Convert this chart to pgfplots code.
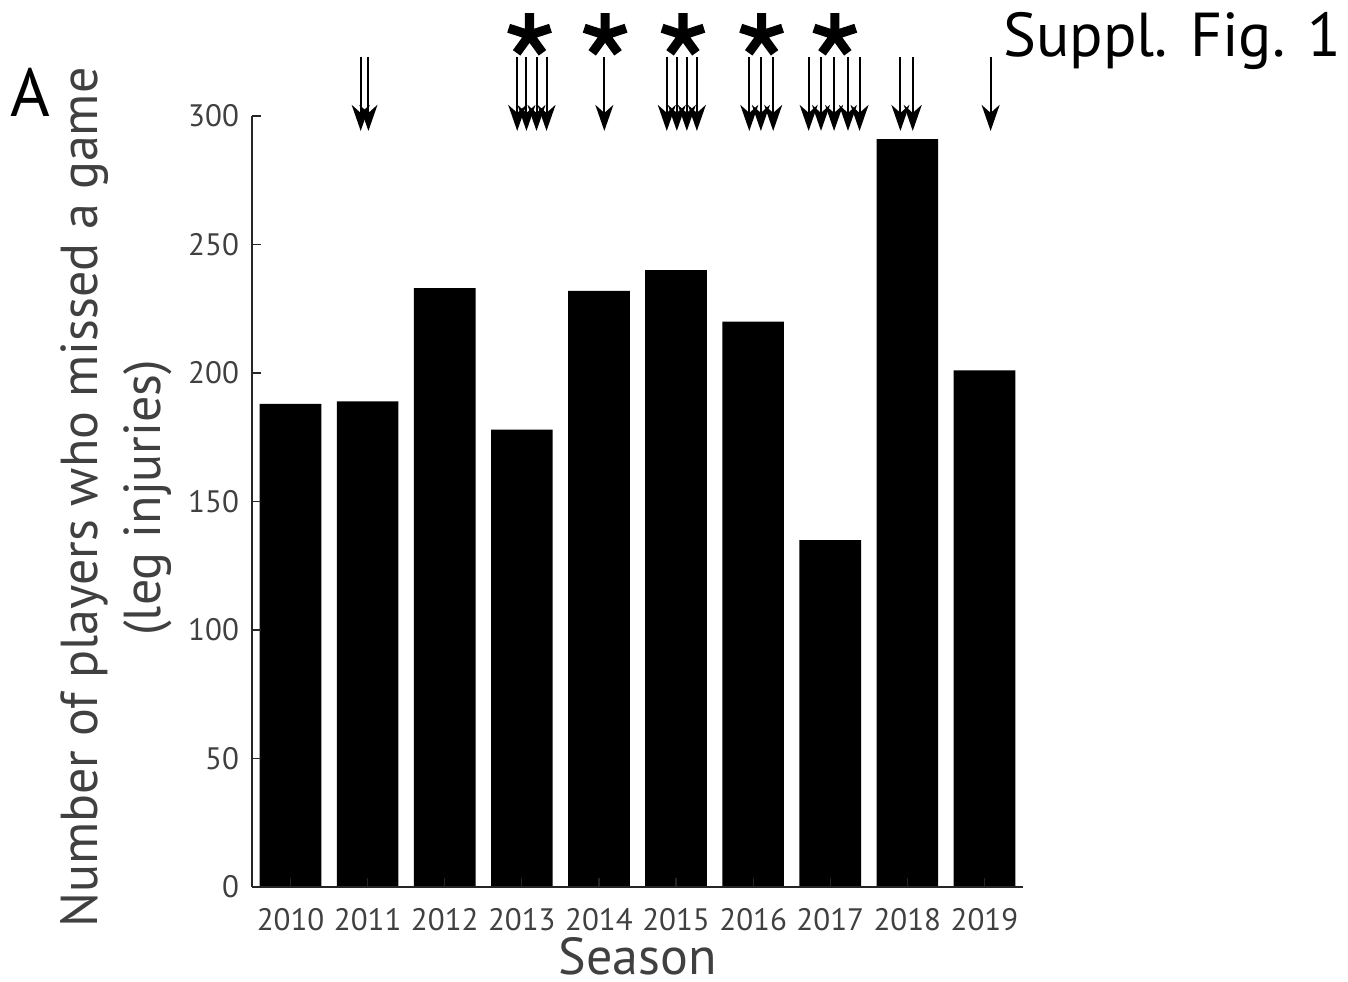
\documentclass[border=0pt]{standalone}
\usepackage{pgfplots}
\pgfplotsset{compat=1.18}
\usepackage{fontspec}
\setmainfont{PT Sans}
\usetikzlibrary{arrows.meta}
\definecolor{axgray}{HTML}{262626}
\definecolor{txtgray}{HTML}{404040}
\begin{document}
\begin{tikzpicture}
\useasboundingbox (-126pt,-47pt) rectangle (548pt,443.5pt);
\begin{axis}[
  at={(0pt,0pt)}, anchor=south west,
  scale only axis, width=385.5pt, height=385.5pt,
  xmin=-0.5, xmax=9.5, ymin=0, ymax=300,
  clip=false,
  axis lines*=left,
  axis line style={axgray, line width=0.9pt},
  axis on top,
  tick align=inside,
  major tick length=4.5pt,
  tick style={axgray, line width=0.6pt},
  xtick={0,...,9},
  xticklabels={2010,2011,2012,2013,2014,2015,2016,2017,2018,2019},
  ytick={0,50,100,150,200,250,300},
  /pgf/number format/assume math mode=true,
  tick label style={font=\fontsize{15.5}{18}\selectfont, color=txtgray},
  xticklabel style={yshift=-7pt},
  yticklabel style={xshift=-3pt},
  xlabel={Season},
  xlabel style={font=\fontsize{26}{30}\selectfont, color=txtgray,
    at={(axis description cs:0.5,0)}, anchor=center, yshift=-34.5pt},
  ylabel={Number of players who missed a game\\(leg injuries)},
  ylabel style={font=\fontsize{26}{31.5}\selectfont, color=txtgray, align=center,
    at={(axis description cs:-0.176,0.505)}, anchor=center},
]
\addplot[ybar, bar width=0.8, bar shift=0pt, fill=black, draw=none]
  coordinates {(0,188)(1,189)(2,233)(3,178)(4,232)(5,240)(6,220)(7,135)(8,291)(9,201)};
\addplot[black, line width=1pt, mark=none,
  -{Stealth[length=13pt,width=9pt,inset=4pt]},
  quiver={u=0,v=-28.8}]
  coordinates {(0.91,323)(1.01,323)
    (2.94,323)(3.06,323)(3.19,323)(3.32,323)
    (4.07,323)
    (4.88,323)(5.01,323)(5.14,323)(5.27,323)
    (5.95,323)(6.10,323)(6.26,323)
    (6.72,323)(6.88,323)(7.05,323)(7.23,323)(7.38,323)
    (7.91,323)(8.07,323)
    (9.08,323)};
\addplot[only marks, black, mark=star, mark size=11pt, mark options={line width=4.6pt}]
  coordinates {(3.10,331.5)(4.08,331.5)(5.09,331.5)(6.11,331.5)(7.06,331.5)};
\end{axis}
\node[anchor=center, font=\fontsize{34}{38}\selectfont] at (-111pt,397.5pt) {A};
\node[anchor=base west, inner sep=0pt, font=\fontsize{31}{36}\selectfont] at (375.5pt,415pt) {Suppl. Fig. 1};
\end{tikzpicture}
\end{document}
